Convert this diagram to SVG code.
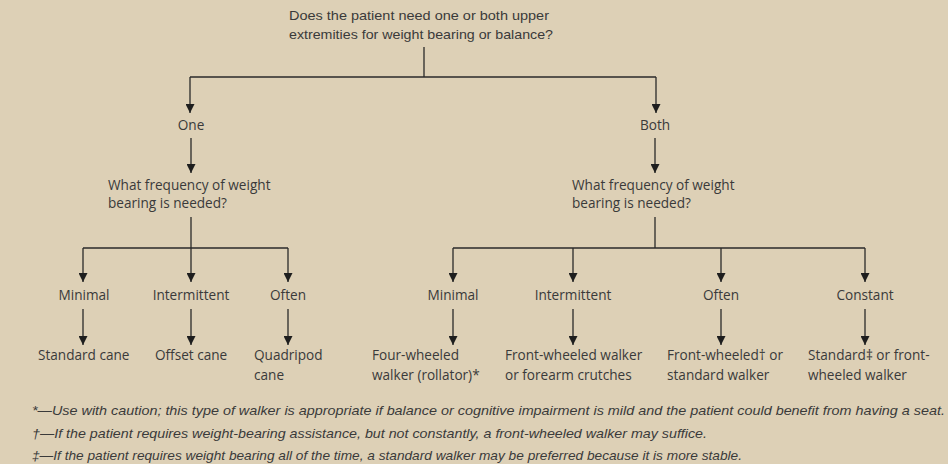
<svg xmlns="http://www.w3.org/2000/svg" width="948" height="464" viewBox="0 0 948 464">
<defs>
<marker id="ah" viewBox="0 0 10 10" refX="10" refY="5" markerWidth="10" markerHeight="9" markerUnits="userSpaceOnUse" orient="auto">
<path d="M0,0 L10,5 L0,10 z" fill="#1e1e1e"/>
</marker>
</defs>
<style>
.t{font-family:"Open Sans","Noto Sans",sans-serif;font-size:13.6px;fill:#3a3a3a}
.c{text-anchor:middle}
.q{font-family:"Liberation Sans",Arial,sans-serif;font-size:13px;fill:#3a3a3a}
.fn{font-family:"Liberation Sans",Arial,sans-serif;font-size:13px;font-style:italic;fill:#3a3a3a}
.ln{stroke:#2a2a2a;stroke-width:1.3;fill:none}
.ar{stroke:#2a2a2a;stroke-width:1.3;fill:none;marker-end:url(#ah)}
</style>
<rect width="948" height="464" fill="#ddd0b6"/>
<g id="connectors">
<path class="ln" d="M424,47 V77"/>
<path class="ln" d="M190,77 H656"/>
<path class="ar" d="M190,77 V113"/>
<path class="ar" d="M656,77 V113"/>
<path class="ar" d="M191,138 V173"/>
<path class="ar" d="M655,138 V173"/>
<path class="ln" d="M191,217 V248"/>
<path class="ln" d="M83,248 H288"/>
<path class="ar" d="M83,248 V282"/>
<path class="ar" d="M191,248 V282"/>
<path class="ar" d="M288,248 V282"/>
<path class="ln" d="M655,217 V248"/>
<path class="ln" d="M453,248 H865"/>
<path class="ar" d="M453,248 V282"/>
<path class="ar" d="M573,248 V282"/>
<path class="ar" d="M721,248 V282"/>
<path class="ar" d="M865,248 V282"/>
<path class="ar" d="M83,309 V345"/>
<path class="ar" d="M191,309 V345"/>
<path class="ar" d="M288,309 V345"/>
<path class="ar" d="M453,309 V345"/>
<path class="ar" d="M573,309 V345"/>
<path class="ar" d="M721,309 V345"/>
<path class="ar" d="M865,309 V345"/>
</g>
<g id="q1"><text class="q" x="289" y="20" textLength="260" lengthAdjust="spacingAndGlyphs">Does the patient need one or both upper</text><text class="q" x="289" y="39" textLength="264" lengthAdjust="spacingAndGlyphs">extremities for weight bearing or balance?</text></g>
<g id="one"><text class="t c" x="191" y="130">One</text></g>
<g id="both"><text class="t c" x="655" y="130">Both</text></g>
<g id="q2l"><text class="t" x="108" y="190">What frequency of weight</text><text class="t" x="108" y="208">bearing is needed?</text></g>
<g id="q2r"><text class="t" x="572" y="190">What frequency of weight</text><text class="t" x="572" y="208">bearing is needed?</text></g>
<g id="l-min"><text class="t c" x="84" y="300">Minimal</text></g>
<g id="l-int"><text class="t c" x="191" y="300">Intermittent</text></g>
<g id="l-oft"><text class="t c" x="288" y="300">Often</text></g>
<g id="r-min"><text class="t c" x="453" y="300">Minimal</text></g>
<g id="r-int"><text class="t c" x="573" y="300">Intermittent</text></g>
<g id="r-oft"><text class="t c" x="721" y="300">Often</text></g>
<g id="r-con"><text class="t c" x="865" y="300">Constant</text></g>
<g id="std-cane"><text class="t" x="38" y="360">Standard cane</text></g>
<g id="off-cane"><text class="t" x="155" y="360">Offset cane</text></g>
<g id="quad-cane"><text class="t" x="254" y="360">Quadripod</text><text class="t" x="254" y="380">cane</text></g>
<g id="rollator"><text class="t" x="372" y="360">Four-wheeled</text><text class="t" x="372" y="380">walker (rollator)*</text></g>
<g id="fww"><text class="t" x="505" y="360">Front-wheeled walker</text><text class="t" x="505" y="380">or forearm crutches</text></g>
<g id="fw-std"><text class="t" x="667" y="360">Front-wheeled† or</text><text class="t" x="667" y="380">standard walker</text></g>
<g id="std-fw"><text class="t" x="808" y="360">Standard‡ or front-</text><text class="t" x="808" y="380">wheeled walker</text></g>
<g id="footnotes">
<text class="fn" x="32" y="415" textLength="913" lengthAdjust="spacingAndGlyphs">*—Use with caution; this type of walker is appropriate if balance or cognitive impairment is mild and the patient could benefit from having a seat.</text>
<text class="fn" x="32" y="438" textLength="675" lengthAdjust="spacingAndGlyphs">†—If the patient requires weight-bearing assistance, but not constantly, a front-wheeled walker may suffice.</text>
<text class="fn" x="32" y="460" textLength="710" lengthAdjust="spacingAndGlyphs">‡—If the patient requires weight bearing all of the time, a standard walker may be preferred because it is more stable.</text>
</g>
</svg>
